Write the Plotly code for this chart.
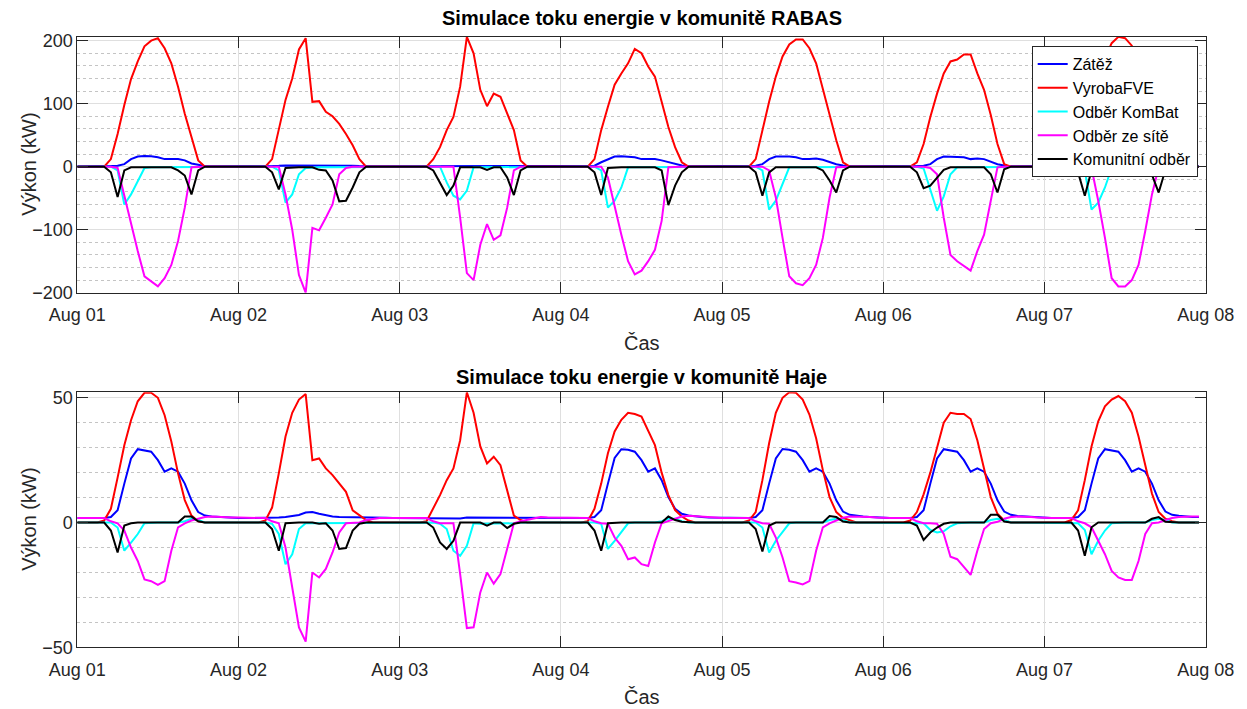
import pandas as pd
import plotly.graph_objects as go

# ---------------- data (hourly, 1.8.–7.8.) ----------------
time = pd.date_range("2025-08-01 00:00", periods=168, freq="h")

# RABAS
rabas_zatez = [
    0.5,0.5,0.5,0.5,0.5,0.5,1.6,4,12,16,17,16.5,15,12,12,12,10,5,3,0.8,0.5,0.5,0.5,0.5,
    0.5,0.5,0.5,0.5,0.5,1,1.5,2,2,2,2.5,2.5,2,2,2,2,2,1.5,1,0.5,0.5,0.5,0.5,0.5,
    0.5,0.5,0.5,0.5,0.5,1,1.5,1.5,1.5,1.5,1.5,1.5,1.5,1.5,1.5,1.5,1.5,1,0.8,0.5,0.5,0.5,0.5,0.5,
    0.5,0.5,0.5,0.5,0.5,1.6,7,12,16,16.5,16,15,12,12,12,10,7,4,2,0.5,0.5,0.5,0.5,0.5,
    0.5,0.5,0.5,0.5,0.5,1.6,4,12,16,16.5,16,15,12,12,13,11,7,4,2,0.5,0.5,0.5,0.5,0.5,
    0.5,0.5,0.5,0.5,0.5,1,1.6,4,12,16,16,16,15,12,13,12,8,4,2,0.5,0.5,0.5,0.5,0.5,
    0.5,0.5,0.5,0.5,0.5,1.6,4,12,16,16.5,16,15,12,12,13,11,7,4,2,0.5,0.5,0.5,0.5,0.5,
]
rabas_fve = [
    0,0,0,0,0,12,52,98,139,167,191,200,204,188,164,127,84,47,10,0,0,0,0,0,
    0,0,0,0,0,12,58,106,140,186,204,103,104,87,80,68,52,34,12,0,0,0,0,0,
    0,0,0,0,0,12,31,58,79,127,206,180,122,96,116,111,84,58,10,0,0,0,0,0,
    0,0,0,0,0,12,58,95,130,148,164,187,180,159,143,103,63,31,7,0,0,0,0,0,
    0,0,0,0,0,12,58,103,143,175,194,202,202,188,164,124,84,42,7,0,0,0,0,0,
    0,0,0,0,0,7,36,79,116,148,167,170,178,178,148,122,82,36,4,0,0,0,0,0,
    0,0,0,0,0,10,52,98,139,172,196,206,204,192,165,127,84,45,8,0,0,0,0,0,
]
rabas_kombat = [
    0,0,0,0,0,0,-6,-60,-44,-22,-2,-1,-1,-1,-1,-1,-1,-1,-1,0,0,0,0,0,
    0,0,0,0,0,0,-6,-57,-44,-12,-2,-1,-1,-1,-1,-1,-1,-1,-1,0,0,0,0,0,
    0,0,0,0,0,0,0,-25,-46,-52,-38,-1,-1,-1,-1,-1,-1,-1,-1,0,0,0,0,0,
    0,0,0,0,0,0,-6,-65,-54,-33,-1,-1,-1,-1,-1,-1,-1,-1,-1,0,0,0,0,0,
    0,0,0,0,0,0,-6,-68,-54,-28,-1,-1,-1,-1,-1,-1,-1,-1,-1,0,0,0,0,0,
    0,0,0,0,0,0,-3,-38,-70,-47,-12,-1,-1,-1,-1,-1,-1,-1,-1,0,0,0,0,0,
    0,0,0,0,0,0,-6,-68,-57,-33,-2,-1,-1,-1,-1,-1,-1,-1,-1,0,0,0,0,0,
]
rabas_sit = [
    0,0,0,0,0,0,-2,-46,-92,-134,-174,-182,-190,-177,-156,-118,-65,-1,0,0,0,0,0,0,
    0,0,0,0,0,0,0,-44,-100,-172,-200,-97,-101,-81,-60,-12,-2,0,0,0,0,0,0,0,
    0,0,0,0,0,0,0,0,0,-81,-169,-180,-124,-91,-116,-109,-65,-6,0,0,0,0,0,0,
    0,0,0,0,0,0,0,-17,-65,-108,-150,-171,-165,-150,-132,-86,-1,0,0,0,0,0,0,0,
    0,0,0,0,0,0,0,-6,-49,-113,-174,-185,-188,-177,-156,-113,-49,-1,0,0,0,0,0,0,
    0,0,0,0,0,0,0,-2,-12,-81,-140,-150,-158,-165,-134,-108,-54,-1,0,0,0,0,0,0,
    0,0,0,0,0,0,0,-2,-54,-113,-177,-190,-190,-180,-156,-102,-44,-1,0,0,0,0,0,0,
]
rabas_komunita = [
    0,0,0,0,0,-9,-48,-6,-1,-1,-1,-1,-1,-1,-1,-6,-14,-44,-6,0,0,0,0,0,
    0,0,0,0,0,-9,-36,-2,-1,-1,-1,-1,-5,-6,-22,-55,-54,-33,-9,0,0,0,0,0,
    0,0,0,0,0,-6,-25,-45,-30,-1,-1,-1,-1,-5,-1,-1,-17,-45,-6,0,0,0,0,0,
    0,0,0,0,0,-9,-45,-2,-1,-1,-1,-1,-1,-1,-1,-6,-61,-30,-9,0,0,0,0,0,
    0,0,0,0,0,-9,-46,-9,-1,-1,-1,-1,-1,-1,-1,-6,-22,-41,-6,0,0,0,0,0,
    0,0,0,0,0,-9,-34,-30,-17,-5,-1,-1,-1,-1,-1,-1,-12,-41,-4,0,0,0,0,0,
    0,0,0,0,0,-9,-46,-6,-1,-1,-1,-1,-1,-1,-1,-1,-13,-41,-5,0,0,0,0,0,
]

# Haje
haje_zatez = [
    1.8,1.8,1.8,1.8,1.8,2.2,4.9,15.6,25.7,29.4,29,28.4,25,20.4,21.7,20.4,15.6,8.9,4.2,2.8,2.4,2.2,2,2,
    1.8,1.8,1.8,1.8,1.8,1.9,2,2.2,2.5,3,4,4.2,3.5,2.8,2.4,2.2,2.2,2,2,2,2,1.9,1.9,1.8,
    1.8,1.8,1.8,1.8,1.8,1.6,1.6,1.6,1.6,1.6,2,2,2,2,2,2,2,2,2,1.9,1.9,1.9,1.8,1.8,
    1.8,1.8,1.8,1.8,1.8,2.2,4.9,15.6,25.9,29.4,29.2,28.4,25,20.4,21.7,17,10.2,5.5,3.5,2.8,2.4,2.2,2,2,
    1.8,1.8,1.8,1.8,1.8,2.2,4.9,15.6,25.7,29.5,29.2,28.4,25,20.4,21.7,20.4,15.6,8.9,4.4,3.1,2.6,2.4,2.2,2,
    1.8,1.8,1.8,1.8,1.8,2.2,4.9,15.6,25.7,29.4,29,28.4,25,20.4,21.7,20.4,15.6,8.9,4.4,3.1,2.6,2.4,2.2,2,
    1.8,1.8,1.8,1.8,1.8,2.2,4.9,15.6,25.7,29.4,29,28.4,25,20.4,21.7,20.4,15.6,8.9,4.4,3.1,2.7,2.4,2.2,2.2,
]
haje_fve = [
    0,0,0,0,0.8,5.5,18,31,41,48.6,52,52,50,43,32.5,19.7,9,2.8,0.5,0,0,0,0,0,
    0,0,0,0,0.8,6,19.7,34.5,44,49.3,51.5,25,25.7,21.7,19,15.6,12.3,4.9,2.8,1,0,0,0,0,
    0,0,0,0,0.5,5.5,11,17,21.7,33,52.2,44,30.5,23.7,26.4,23,13,2.8,1,0,0,0,0,0,
    0,0,0,0,0.5,5.5,15.6,27.8,36.5,41.2,44,43.5,42.5,37,31,20,11,5,2.4,0.8,0,0,0,0,
    0,0,0,0,0.8,4.2,17,31.8,44,50,52.2,52,49.3,43.3,33.8,21,10.2,4.2,1.8,0.8,0,0,0,0,
    0,0,0,0,0.8,4.2,11.3,20,30,40,44,43.5,43.5,41.5,33,21.7,10.2,3.5,0.8,0,0,0,0,0,
    0,0,0,0,1,4.9,17,30.5,40.6,46.6,49.3,50.7,48.6,44,34.5,22.4,11.6,4.2,1.5,0.5,0,0,0,0,
]
haje_kombat = [
    0,0,0,0,0,0,-2,-11.3,-8,-4.6,-0.3,0,0,0,0,0,0.5,1.5,1,0,0,0,0,0,
    0,0,0,0,0,-0.5,-4.6,-16.7,-12.7,-2.6,-0.3,-0.3,-0.3,-0.3,-0.3,-0.3,-0.3,-0.3,-0.3,0,0,0,0,0,
    0,0,0,0,0,0,-0.5,-2.6,-11.3,-13.3,-9.3,-0.3,-0.5,-0.5,-0.5,-0.5,-0.5,-0.3,0,0,0,0,0,0,
    0,0,0,0,0,0,-0.5,-10.6,-7.3,-4,-0.3,0,0,0,0,0.5,1.5,1.5,0.5,0,0,0,0,0,
    0,0,0,0,0,0,-2,-12,-7.3,-4,-0.3,0,0,0,0,0,1,1.5,1,0,0,0,0,0,
    0,0,0,0,0,0,-0.3,-3,-4,-3.5,-1.5,-0.3,0,0,0,0,1,1.5,1,0,0,0,0,0,
    0,0,0,0,0,-0.3,-3,-12.7,-7.3,-3.2,-0.3,0,0,0,0,0,1,1.5,1,0,0,0,0,0,
]
haje_sit = [
    1.8,1.8,1.8,1.8,1.8,0.5,-0.3,-3.2,-10,-15.4,-22.8,-23.5,-25,-23.5,-11.3,-1.9,-0.3,0.8,1.5,2.2,2.4,2.2,2.2,2,
    2,2,2,2,1.8,0.5,-0.3,-10,-26,-42,-47.7,-20,-22,-18.6,-12,-4,-0.3,-0.3,0,1,1.5,1.8,1.8,1.8,
    1.8,1.8,1.8,1.8,1.8,0.5,-0.3,-0.3,-0.3,-20.7,-42.3,-42,-28,-20,-24.5,-20.7,-10,-0.3,0.5,1,1.8,2.2,2,2,
    1.8,1.8,1.8,1.8,1.8,0.5,-0.3,-0.5,-6,-9.3,-14.7,-14,-16.7,-17.4,-8,-0.3,0.5,1.5,2.4,2.7,2.6,2.4,2.2,2,
    1.8,1.8,1.8,1.8,1.8,0.5,-0.3,-0.5,-6,-14,-23.5,-24,-24.8,-23.5,-11.3,-1.9,-0.3,0.8,1.9,2.4,2.4,2.2,2.2,2,
    1.8,1.8,1.8,1.8,1.8,0.5,-0.3,-0.3,-0.5,-4.6,-13.7,-14.7,-17.8,-21,-11.3,-2.6,-0.3,0.3,1.5,2.2,2.4,2.4,2.2,2,
    1.8,1.8,1.8,1.8,1.8,0.5,-0.3,-1.9,-7.3,-12.7,-19.4,-22,-23,-23,-15.4,-4.6,-0.3,0,1,1.8,2.2,2.4,2.4,2.4,
]
haje_komunita = [
    0,0,0,0,0,-3.2,-12,-1.2,-0.3,0,0,0,0,0,0,0,2.4,2.4,0.5,0,0,0,0,0,
    0,0,0,0,0,-2.6,-11.3,-0.3,0,0,0,0,-0.5,-0.3,-3.2,-10.6,-10.2,-3.2,-0.5,0,0,0,0,0,
    0,0,0,0,0,-2,-8,-10.6,-7.3,0,0,0,0,-1.2,0,0,-2.2,-0.5,0,0,0,0,0,0,
    0,0,0,0,0,-3.2,-11.3,-0.3,0,0,0,0,0,0,0,0,2.4,1,0.3,0,0,0,0,0,
    0,0,0,0,0,-2.6,-11.6,-1.2,0,0,0,0,0,0,0,0,2.6,2.2,0.4,0,0,0,0,0,
    0,0,0,0,0,-1.2,-7,-4,-2,-0.5,0,0,0,0,0,0,3.1,3.1,0.4,0,0,0,0,0,
    0,0,0,0,0,-3.2,-13.3,-1.9,0,0,0,0,0,0,0,0,1.5,2.2,0.3,0,0,0,0,0,
]

series_names = ["Zátěž", "VyrobaFVE", "Odběr KomBat", "Odběr ze sítě", "Komunitní odběr"]
series_colors = ["#0000FF", "#FF0000", "#00FFFF", "#FF00FF", "#000000"]

titles = ["Simulace toku energie v komunitě RABAS", "Simulace toku energie v komunitě Haje"]
y_ticks_top = [-200, -100, 0, 100, 200]
y_ticks_bot = [-50, 0, 50]

# ---------------- figure ----------------
W, H = 1247, 709
FONT = "Liberation Sans, Arial, Helvetica, sans-serif"
TXT = "#262626"

fig = go.Figure()
top = [rabas_zatez, rabas_fve, rabas_kombat, rabas_sit, rabas_komunita]
bot = [haje_zatez, haje_fve, haje_kombat, haje_sit, haje_komunita]
for name, col, ys in zip(series_names, series_colors, top):
    fig.add_trace(go.Scatter(x=time, y=ys, mode="lines", name=name,
                             line=dict(color=col, width=2), xaxis="x", yaxis="y"))
for name, col, ys in zip(series_names, series_colors, bot):
    fig.add_trace(go.Scatter(x=time, y=ys, mode="lines", name=name, showlegend=False,
                             line=dict(color=col, width=2), xaxis="x2", yaxis="y2"))

def px_x(x):
    return x / W

def px_y(y):
    return 1 - y / H

xdom = [px_x(77.3), px_x(1205.7)]
top_dom = [px_y(292.7), px_y(36.7)]
bot_dom = [px_y(647.3), px_y(392.3)]

xcommon = dict(
    type="date", range=["2025-08-01", "2025-08-08"], dtick=86400000,
    tickformat="%b %d", ticks="inside", ticklen=11, tickwidth=1, tickcolor=TXT,
    showline=True, linecolor=TXT, linewidth=1, mirror="ticks",
    showgrid=True, gridcolor="#dfdfdf", gridwidth=1, zeroline=False,
    automargin=False, ticklabelstandoff=6,
    tickfont=dict(family=FONT, size=18, color=TXT), domain=xdom,
)
ycommon = dict(
    ticks="inside", ticklen=11, tickwidth=1, tickcolor=TXT,
    showline=True, linecolor=TXT, linewidth=1, mirror="ticks",
    showgrid=True, gridcolor="#dfdfdf", gridwidth=1, zeroline=False,
    automargin=False,
    tickfont=dict(family=FONT, size=18, color=TXT),
)

fig.update_layout(
    width=W, height=H, autosize=False,
    margin=dict(l=0, r=0, t=0, b=0, pad=0),
    paper_bgcolor="white", plot_bgcolor="white",
    xaxis=dict(**xcommon, anchor="y"),
    xaxis2=dict(**xcommon, anchor="y2"),
    yaxis=dict(**ycommon, domain=top_dom, anchor="x", range=[-200, 206.3],
               tickvals=y_ticks_top,
               minor=dict(dtick=20, tick0=0, showgrid=True, griddash="dot",
                          gridcolor="#c4c4c4", gridwidth=1, ticks="")),
    yaxis2=dict(**ycommon, domain=bot_dom, anchor="x2", range=[-50, 52.2],
                tickvals=y_ticks_bot,
                minor=dict(dtick=10, tick0=0, showgrid=True, griddash="dot",
                           gridcolor="#c4c4c4", gridwidth=1, ticks="")),
    legend=dict(x=px_x(1197.7), y=px_y(46), xanchor="right", yanchor="top",
                bgcolor="white", bordercolor=TXT, borderwidth=1,
                font=dict(family=FONT, size=16, color="#000000"),
                tracegroupgap=0),
    showlegend=True,
)

ann = []
for t, yc in zip(titles, [18, 377]):
    ann.append(dict(text="<b>" + t + "</b>", x=px_x(641.5), y=px_y(yc), xref="paper", yref="paper",
                    xanchor="center", yanchor="middle", showarrow=False,
                    font=dict(family=FONT, size=20, color="#000000")))
for yc in [343, 697]:
    ann.append(dict(text="Čas", x=px_x(641.5), y=px_y(yc), xref="paper", yref="paper",
                    xanchor="center", yanchor="middle", showarrow=False,
                    font=dict(family=FONT, size=20, color=TXT)))
for yc in [164.7, 519.8]:
    ann.append(dict(text="Výkon (kW)", x=px_x(29), y=px_y(yc), xref="paper", yref="paper",
                    xanchor="center", yanchor="middle", showarrow=False, textangle=-90,
                    font=dict(family=FONT, size=20, color=TXT)))
fig.update_layout(annotations=ann)

fig.write_html("out.html")
